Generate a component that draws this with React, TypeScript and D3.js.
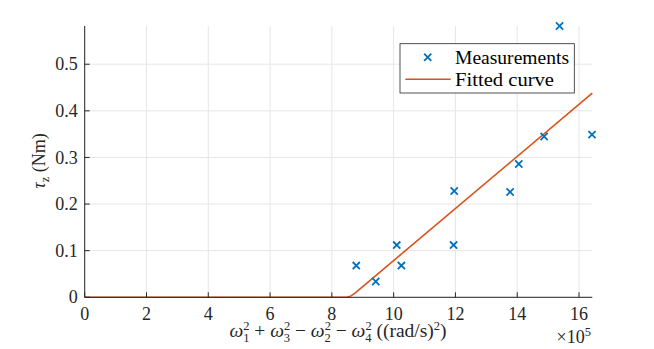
import React from "react";
import { scaleLinear, line } from "d3";

// measurements (x in units of 1e5 (rad/s)^2, y in Nm)
const measX = [8.79, 9.42, 10.1, 10.25, 11.94, 11.96, 13.77, 14.05, 14.87, 15.37, 16.42];
const measY = [0.068, 0.034, 0.112, 0.068, 0.112, 0.228, 0.226, 0.286, 0.345, 0.582, 0.349];

// fitted curve sample points
const fitX = [0, 8.5, 8.62, 8.75, 16.43];
const fitY = [0, 0, 0.003, 0.009, 0.438];

const xTicks = [0, 2, 4, 6, 8, 10, 12, 14, 16];
const yTicks = [0, 0.1, 0.2, 0.3, 0.4, 0.5];

const BLUE = "#0072BD";
const ORANGE = "#D95319";
const AXIS = "#262626";
const FONT = "'Liberation Serif', 'Times New Roman', serif";

function App() {
  const width = 654;
  const height = 349;
  const margin = { top: 26, right: 61.7, bottom: 51.7, left: 84.7 };
  const innerWidth = width - margin.left - margin.right;
  const innerHeight = height - margin.top - margin.bottom;

  const xScale = scaleLinear().domain([0, 16.43]).range([0, innerWidth]);
  const yScale = scaleLinear().domain([0, 0.582]).range([innerHeight, 0]);

  const fitPath = line<number>()
    .x((d) => xScale(d))
    .y((_, i) => yScale(fitY[i]))(fitX);

  const cross = (cx: number, cy: number, r: number, key?: number) => (
    <path
      key={key}
      d={`M${cx - r},${cy - r}L${cx + r},${cy + r}M${cx - r},${cy + r}L${cx + r},${cy - r}`}
      stroke={BLUE}
      strokeWidth={1.8}
      fill="none"
    />
  );

  // omega_i^2 pieces: each one ends 4.5px below the baseline, the next tspan restores it
  const sup = 12.5;
  const omega = (sub: string, lead: string, first: boolean) => [
    <tspan key={"l" + sub} dy={first ? 0 : -4.5}>{lead}</tspan>,
    <tspan key={"w" + sub} fontStyle="italic">ω</tspan>,
    <tspan key={"p" + sub} fontSize={sup} dy={-7}>2</tspan>,
    <tspan key={"s" + sub} fontSize={sup} dx={-6.3} dy={11.5}>{sub}</tspan>,
  ];

  return (
    <svg
      width={width}
      height={height}
      style={{ position: "absolute", left: 0, top: 0, background: "#fff" }}
      fontFamily={FONT}
    >
      <g transform={`translate(${margin.left},${margin.top})`}>
        {/* grid */}
        {xTicks.map((d) => (
          <line key={"gx" + d} x1={xScale(d)} x2={xScale(d)} y1={0} y2={innerHeight} stroke="#e6e6e6" strokeWidth={1} />
        ))}
        {yTicks.map((d) => (
          <line key={"gy" + d} x1={0} x2={innerWidth} y1={yScale(d)} y2={yScale(d)} stroke="#e6e6e6" strokeWidth={1} />
        ))}

        {/* fitted curve */}
        <path d={fitPath ?? ""} fill="none" stroke={ORANGE} strokeWidth={1.6} />

        {/* measurements */}
        {measX.map((d, i) => cross(xScale(d), yScale(measY[i]), 3.6, i))}

        {/* axes */}
        <line x1={0} x2={innerWidth} y1={innerHeight} y2={innerHeight} stroke={AXIS} strokeWidth={1} />
        <line x1={0} x2={0} y1={0} y2={innerHeight} stroke={AXIS} strokeWidth={1} />
        {xTicks.map((d) => (
          <g key={"tx" + d} transform={`translate(${xScale(d)},${innerHeight})`}>
            <line y2={-5} stroke={AXIS} />
            <text y={22.5} textAnchor="middle" fontSize={18} fill={AXIS}>
              {d}
            </text>
          </g>
        ))}
        {yTicks.map((d) => (
          <g key={"ty" + d} transform={`translate(0,${yScale(d)})`}>
            <line x2={5} stroke={AXIS} />
            <text x={-7} dy="0.34em" textAnchor="end" fontSize={18} fill={AXIS}>
              {d}
            </text>
          </g>
        ))}
      </g>

      {/* y label */}
      <text transform="translate(45,161) rotate(-90)" textAnchor="middle" fontSize={18} fill={AXIS}>
        <tspan fontStyle="italic">τ</tspan>
        <tspan fontSize={sup} dy={4}>z</tspan>
        <tspan dy={-4}> (Nm)</tspan>
      </text>

      {/* x label */}
      <text x={338} y={337} textAnchor="middle" fontSize={19.5} fill={AXIS}>
        {omega("1", "", true)}
        {omega("3", " + ", false)}
        {omega("2", " − ", false)}
        {omega("4", " − ", false)}
        <tspan dy={-4.5}> ((rad/s)</tspan>
        <tspan fontSize={sup} dy={-7}>2</tspan>
        <tspan dy={7}>)</tspan>
      </text>

      {/* x multiplier */}
      <text x={591} y={343} textAnchor="end" fontSize={18} fill={AXIS}>
        ×10
        <tspan fontSize={sup} dy={-7.5}>5</tspan>
      </text>

      {/* legend */}
      <g>
        <rect x={400} y={43.7} width={174.3} height={49.3} fill="#fff" stroke={AXIS} strokeWidth={0.8} />
        {cross(427.7, 57.3, 3.6)}
        <text x={455} y={63.5} fontSize={18} fill="#000" textLength={114} lengthAdjust="spacingAndGlyphs">
          Measurements
        </text>
        <line x1={405.3} x2={450.7} y1={79.3} y2={79.3} stroke={ORANGE} strokeWidth={1.6} />
        <text x={455} y={85.5} fontSize={18} fill="#000" textLength={99} lengthAdjust="spacingAndGlyphs">
          Fitted curve
        </text>
      </g>
    </svg>
  );
}

export default App;
